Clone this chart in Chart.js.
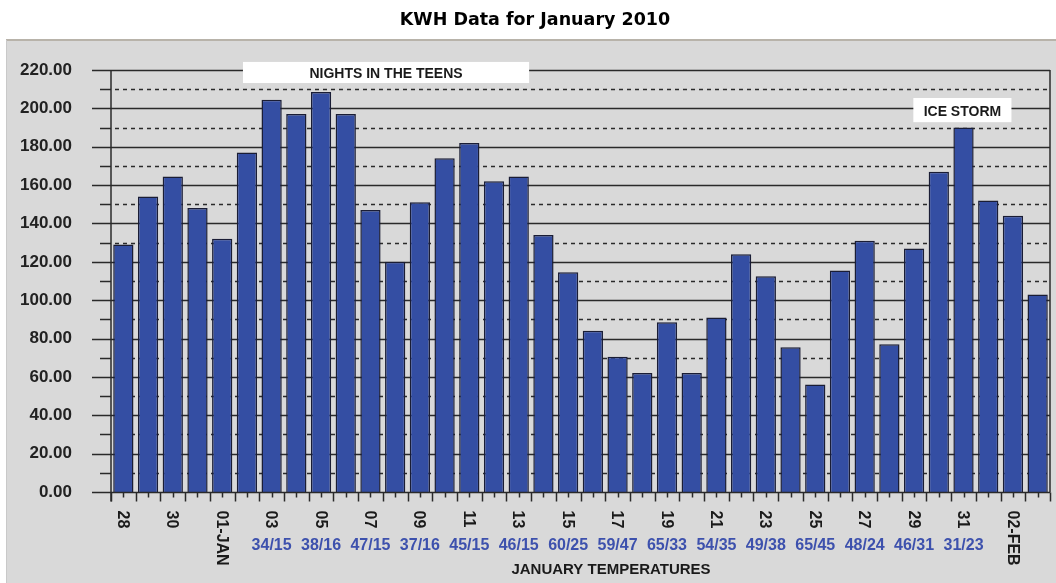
<!DOCTYPE html>
<html><head><meta charset="utf-8">
<script src="https://cdn.jsdelivr.net/npm/chart.js@4.4.1/dist/chart.umd.min.js"></script>
<style>html,body{margin:0;padding:0;background:#fff;}#wrap{width:1056px;height:583px;position:relative;}</style>
</head><body><div id="wrap"><canvas id="c" width="1056" height="583"></canvas></div>
<script>
// ---- data ----
const days = ['28','29','30','31','01-JAN','02','03','04','05','06','07','08','09','10','11','12','13','14','15','16','17','18','19','20','21','22','23','24','25','26','27','28','29','30','31','01','02-FEB','03'];
const kwh = [129,154,164.5,148,132,177,204.5,197,208.5,197,147,120,151,174,182,162,164.5,134,114.5,84,70.5,62,88.5,62,91,124,112.5,75.5,56,115.5,131,77,127,167,190,152,144,103];
const dayTicks = ['28','','30','','01-JAN','','03','','05','','07','','09','','11','','13','','15','','17','','19','','21','','23','','25','','27','','29','','31','','02-FEB',''];
const temps = ['','','','','','','34/15','','38/16','','47/15','','37/16','','45/15','','46/15','','60/25','','59/47','','65/33','','54/35','','49/38','','65/45','','48/24','','46/31','','31/23','','',''];
const yTicks = [0,20,40,60,80,100,120,140,160,180,200,220];
const titleText = 'KWH Data for January 2010';
const xTitle = 'JANUARY TEMPERATURES';
const notes = ['NIGHTS IN THE TEENS','ICE STORM'];

// ---- annotation placement (scale units) ----
const noteBoxes = [
  {x0:4.84, x1:16.42, y0:224.2, y1:213.2},
  {x0:31.97, x1:35.94, y0:205.4, y1:192.8}
];

const LINE = '#2a2a2a';
const plugin = {
  id:'deco',
  beforeDraw(chart){
    const c = chart.ctx;
    c.save();
    c.fillStyle='#ffffff'; c.fillRect(0,0,chart.width,chart.height);
    c.fillStyle='#d9d9d9'; c.fillRect(6,40,chart.width-6,chart.height-40);
    c.fillStyle='#b8b3aa'; c.fillRect(6,39,chart.width-6,2);
    c.fillStyle='#c9c9c9'; c.fillRect(6,40,1,chart.height-40);
    c.restore();
  },
  beforeDatasetsDraw(chart){
    const c = chart.ctx, y = chart.scales.y, a = chart.chartArea;
    c.save();
    c.lineWidth = 1.5; c.strokeStyle = LINE;
    y.ticks.forEach(t=>{
      const v = t.value; if (v===0) return;
      const py = Math.round(y.getPixelForValue(v))+0.5;
      if (v % 20 === 0){
        c.setLineDash([]);
        c.beginPath(); c.moveTo(a.left-19,py); c.lineTo(a.right,py); c.stroke();
      } else {
        c.setLineDash([]);
        c.beginPath(); c.moveTo(a.left-11,py); c.lineTo(a.left,py); c.stroke();
        c.setLineDash([4,4]);
        c.beginPath(); c.moveTo(a.left+4,py); c.lineTo(a.right,py); c.stroke();
      }
    });
    c.restore();
  },
  afterDatasetsDraw(chart){
    const c = chart.ctx, x = chart.scales.x, y = chart.scales.y, a = chart.chartArea;
    c.save();
    c.strokeStyle = LINE; c.lineWidth = 1.5; c.setLineDash([]);
    const y0 = Math.round(y.getPixelForValue(0))+0.5;
    // zero line
    c.beginPath(); c.moveTo(a.left-19,y0); c.lineTo(a.right,y0); c.stroke();
    // left axis & right border
    c.beginPath(); c.moveTo(a.left,a.top); c.lineTo(a.left,y0+9); c.stroke();
    c.beginPath(); c.moveTo(a.right,a.top); c.lineTo(a.right,y0); c.stroke();
    // x ticks
    for (let i=0;i<=days.length;i++){
      const px = Math.round(x.getPixelForValue(i-0.5))+0.5;
      c.beginPath(); c.moveTo(px,y0); c.lineTo(px,y0+9); c.stroke();
    }
    for (let i=0;i<days.length;i++){
      const px = Math.round(x.getPixelForValue(i))+0.5;
      c.beginPath(); c.moveTo(px,y0); c.lineTo(px,y0+5); c.stroke();
    }
    // rotated day labels
    c.fillStyle = '#1a1a1a';
    c.font = 'bold 16px "Liberation Sans", Arial, sans-serif';
    c.textAlign = 'left'; c.textBaseline = 'middle';
    dayTicks.forEach((d,i)=>{
      if (!d) return;
      c.save();
      c.translate(x.getPixelForValue(i)-1, y0+18);
      c.rotate(Math.PI/2);
      c.fillText(d,0,0);
      c.restore();
    });
    // temperature labels
    c.fillStyle = '#3d51ad';
    c.textAlign = 'center';
    temps.forEach((t,i)=>{
      if (!t) return;
      c.fillText(t, x.getPixelForValue(i), y0+53);
    });
    // axis title
    c.fillStyle = '#1a1a1a';
    c.font = 'bold 15px "Liberation Sans", Arial, sans-serif';
    c.fillText(xTitle, a.left+500, y0+77);
    // annotations
    c.font = 'bold 14px "Liberation Sans", Arial, sans-serif';
    noteBoxes.forEach((b,k)=>{
      const l = x.getPixelForValue(b.x0), r = x.getPixelForValue(b.x1);
      const t = y.getPixelForValue(b.y0), bt = y.getPixelForValue(b.y1);
      c.fillStyle = '#ffffff'; c.fillRect(l,t,r-l,bt-t);
      c.fillStyle = '#1a1a1a';
      c.fillText(notes[k], (l+r)/2, (t+bt)/2+2);
    });
    // title
    c.fillStyle = '#000';
    c.font = 'bold 17.5px "DejaVu Sans", Verdana, sans-serif';
    c.fillText(titleText, 535, 20);
    c.restore();
  }
};

new Chart(document.getElementById('c'), {
  type:'bar',
  data:{labels:days, datasets:[{data:kwh, backgroundColor:'#344ea3', borderColor:'#1a1d35', borderWidth:1.5, barPercentage:0.82, categoryPercentage:1}]},
  options:{
    responsive:false, animation:false, devicePixelRatio:1,
    layout:{padding:{top:70,right:6,left:0,bottom:0}},
    plugins:{legend:{display:false}, tooltip:{enabled:false}, title:{display:false}},
    scales:{
      x:{type:'category', offset:true, grid:{display:false, drawTicks:false}, border:{display:false}, ticks:{display:false},
         afterFit(s){ s.height = 91; }},
      y:{min:0, max:220, grid:{display:false, drawTicks:false}, border:{display:false},
         afterBuildTicks(s){ const out=[]; for(let v=0; v<=220; v+=10) out.push({value:v}); s.ticks = out; },
         ticks:{autoSkip:false, padding:39, color:'#222', font:{family:'"Liberation Sans", Arial, sans-serif', size:17, weight:'bold'},
                callback:(v)=> yTicks.includes(v) ? v.toFixed(2) : ''},
         afterFit(s){ s.width = 111; }}
    }
  },
  plugins:[plugin]
});
</script></body></html>
